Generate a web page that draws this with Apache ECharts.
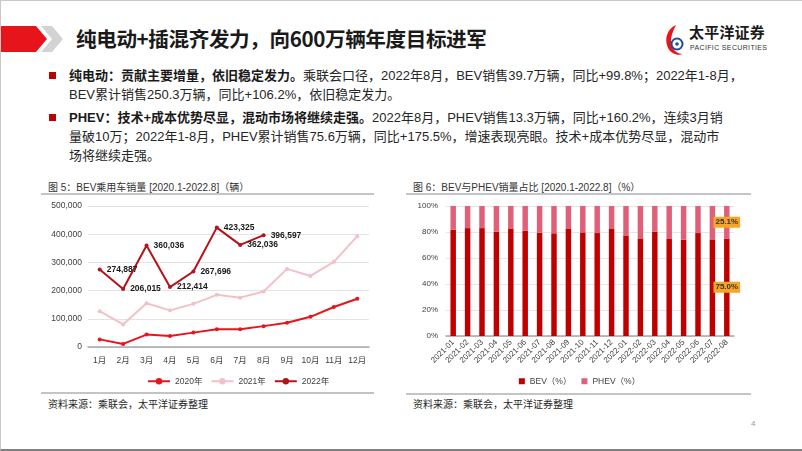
<!DOCTYPE html>
<html><head><meta charset="utf-8">
<script src="https://cdn.jsdelivr.net/npm/echarts@6/dist/echarts.min.js"></script>
<style>
html,body{margin:0;padding:0;background:#fff;}
#slide{position:relative;width:802px;height:451px;overflow:hidden;background:#fff;font-family:"Liberation Sans","Noto Sans CJK SC",sans-serif;box-sizing:border-box;border-top:1px solid #c8c8c8;border-left:1px solid #c8c8c8;border-bottom:2px solid #808080;}
.abs{position:absolute;white-space:nowrap;}
.title{left:75px;top:22px;font-size:20.6px;font-weight:bold;color:#1a1a1a;font-family:"Noto Sans CJK SC",sans-serif;letter-spacing:-0.4px;}
.line{font-size:13px;color:#262626;line-height:18px;}
.line b{font-weight:bold;color:#1a1a1a;}
.bullet{width:7px;height:7px;background:#C00000;}
.ctitle{font-size:10px;color:#333;line-height:12px;}
.src{font-size:10px;color:#262626;line-height:12px;}
.hr{height:2px;background:#c4c4c4;}
</style></head>
<body>
<div id="slide">
  <svg class="abs" style="left:0;top:0" width="70" height="70">
    <polygon points="0,25 35,25 46,38 35,51 0,51" fill="#E8141B"/>
    <polygon points="40,25 51,25 62,38 51,51 40,51 51,38" fill="#D3D3D3"/>
  </svg>
  <div class="abs title">纯电动+插混齐发力，向600万辆年度目标进军</div>
  <svg class="abs" style="left:662px;top:22px" width="24" height="34">
    <path d="M13,2 C4,6 1,16 5,25 C8,31 15,33 20,31 C12,31 7,24 8,16 C9,10 11,6 13,2 Z" fill="#E8141B"/>
    <circle cx="14" cy="21" r="5.5" fill="none" stroke="#1F4E9A" stroke-width="2"/>
    <circle cx="14" cy="21" r="1.8" fill="#1F4E9A"/>
  </svg>
  <div class="abs" style="left:688px;top:21px;font-size:15px;line-height:20px;font-weight:bold;color:#1a1a1a;letter-spacing:0.2px;font-family:'Noto Sans CJK SC',sans-serif;">太平洋证券</div>
  <div class="abs" style="left:689px;top:43px;font-size:7px;line-height:8px;color:#333;letter-spacing:0.35px;">PACIFIC SECURITIES</div>

  <div class="abs bullet" style="left:48px;top:71px"></div>
  <div class="abs line" style="left:68px;top:66px"><b>纯电动：贡献主要增量，依旧稳定发力。</b>乘联会口径，2022年8月，BEV销售39.7万辆，同比+99.8%；2022年1-8月，</div>
  <div class="abs line" style="left:68px;top:85px">BEV累计销售250.3万辆，同比+106.2%，依旧稳定发力。</div>
  <div class="abs bullet" style="left:48px;top:113px"></div>
  <div class="abs line" style="left:68px;top:108px"><b>PHEV：技术+成本优势尽显，混动市场将继续走强。</b>2022年8月，PHEV销售13.3万辆，同比+160.2%，连续3月销</div>
  <div class="abs line" style="left:68px;top:127px">量破10万；2022年1-8月，PHEV累计销售75.6万辆，同比+175.5%，增速表现亮眼。技术+成本优势尽显，混动市</div>
  <div class="abs line" style="left:68px;top:146px">场将继续走强。</div>

  <div class="abs ctitle" style="left:47px;top:181px">图 5：BEV乘用车销量 [2020.1-2022.8]（辆）</div>
  <div class="abs hr" style="left:40px;top:192px;width:333px"></div>
  <div class="abs hr" style="left:40px;top:391px;width:333px"></div>
  <div class="abs src" style="left:47px;top:398px">资料来源：乘联会，太平洋证券整理</div>

  <div class="abs ctitle" style="left:412px;top:181px">图 6：BEV与PHEV销量占比 [2020.1-2022.8]（%）</div>
  <div class="abs hr" style="left:405px;top:192px;width:345px"></div>
  <div class="abs hr" style="left:405px;top:392px;width:345px"></div>
  <div class="abs src" style="left:412px;top:398px">资料来源：乘联会，太平洋证券整理</div>

  <div class="abs" style="left:750px;top:418px;font-size:8px;color:#999;">4</div>

  <div id="c1" class="abs" style="left:40px;top:195px;width:335px;height:195px"></div>
  <div id="c2" class="abs" style="left:405px;top:195px;width:347px;height:197px"></div>
</div>
<script>
// ---- Chart 1 data ----
var months = ['1月','2月','3月','4月','5月','6月','7月','8月','9月','10月','11月','12月'];
var s2020 = [27000, 11000, 44000, 39000, 51000, 63000, 63000, 74000, 86000, 107000, 142000, 171000];
var s2021 = [127000, 80000, 155000, 130000, 153000, 185000, 175000, 197000, 277000, 252000, 302000, 393000];
var s2022 = [274887, 206015, 360036, 212414, 267696, 423325, 362036, 396597];
// ---- Chart 2 data ----
var periods = ['2021-01','2021-02','2021-03','2021-04','2021-05','2021-06','2021-07','2021-08','2021-09','2021-10','2021-11','2021-12','2022-01','2022-02','2022-03','2022-04','2022-05','2022-06','2022-07','2022-08'];
var bev = [81.7, 83.0, 83.0, 80.2, 82.3, 81.0, 79.4, 79.0, 82.3, 79.7, 79.2, 82.3, 77.4, 75.1, 80.2, 74.6, 74.0, 79.2, 74.3, 75.0];
var phev = [18.3, 17.0, 17.0, 19.8, 17.7, 19.0, 20.6, 21.0, 17.7, 20.3, 20.8, 17.7, 22.6, 24.9, 19.8, 25.4, 26.0, 20.8, 25.7, 25.1];

var fontF = '"Liberation Sans","Noto Sans CJK SC",sans-serif';
function fmt(v){ return String(v).replace(/\B(?=(\d{3})+(?!\d))/g, ','); }

var c1 = echarts.init(document.getElementById('c1'), null, {renderer:'canvas'});
c1.setOption({
  animation:false,
  textStyle:{fontFamily:fontF},
  grid:{left:47, right:7, top:10, bottom:44},
  legend:{left:101, top:176, itemWidth:22, itemHeight:8, itemGap:8,
    textStyle:{fontSize:8.5, color:'#404040'},
    data:['2020年','2021年','2022年']},
  xAxis:{type:'category', data:months, boundaryGap:true,
    axisLine:{lineStyle:{color:'#a6a6a6', width:1.5}}, axisTick:{show:false},
    axisLabel:{fontSize:8.5, color:'#404040', margin:9}},
  yAxis:{type:'value', min:0, max:500000, interval:100000,
    axisLine:{show:false}, axisTick:{show:false},
    splitLine:{lineStyle:{color:'#e3e3e3'}},
    axisLabel:{fontSize:8.5, color:'#404040', margin:6, formatter:fmt}},
  series:[
    {name:'2020年', type:'line', data:s2020, symbol:'circle', symbolSize:4,
      lineStyle:{color:'#E8141B', width:2}, itemStyle:{color:'#E8141B'}},
    {name:'2021年', type:'line', data:s2021, symbol:'circle', symbolSize:4,
      lineStyle:{color:'#F2C0C8', width:2}, itemStyle:{color:'#F2C0C8'}},
    {name:'2022年', type:'line', data:s2022, symbol:'circle', symbolSize:4,
      lineStyle:{color:'#B5121B', width:2}, itemStyle:{color:'#B5121B'},
      label:{show:true, position:'right', distance:5, fontSize:8.5, fontWeight:'bold', color:'#1a1a1a',
        formatter:function(p){return fmt(p.value);}}}
  ]
});

var c2 = echarts.init(document.getElementById('c2'), null, {renderer:'canvas'});
var lastIdx = periods.length - 1;
var tagLabel = {show:true, position:'inside', fontSize:8, fontWeight:'bold', color:'#333',
  backgroundColor:'#F7A526', padding:[2,2,1,2], formatter:function(p){return p.value.toFixed(1)+'%';}};
c2.setOption({
  animation:false,
  textStyle:{fontFamily:fontF},
  grid:{left:40, right:19, top:10, bottom:57},
  legend:{left:'center', top:176, itemWidth:6, itemHeight:6, itemGap:10, icon:'rect',
    textStyle:{fontSize:8.5, color:'#404040'}, data:['BEV（%）','PHEV（%）']},
  xAxis:{type:'category', data:periods,
    axisLine:{lineStyle:{color:'#a6a6a6', width:1.5}}, axisTick:{show:false},
    axisLabel:{fontSize:8, color:'#404040', rotate:45, margin:5, interval:0}},
  yAxis:{type:'value', min:0, max:100, interval:20,
    axisLine:{show:false}, axisTick:{show:false},
    splitLine:{lineStyle:{color:'#e6e6e6'}},
    axisLabel:{fontSize:8, color:'#404040', margin:8, formatter:'{value}%'}},
  series:[
    {name:'BEV（%）', type:'bar', stack:'s', barWidth:'38%', itemStyle:{color:'#C00000'},
      data:bev.map(function(v,i){ return i===lastIdx ? {value:v, label:tagLabel} : v; })},
    {name:'PHEV（%）', type:'bar', stack:'s', barWidth:'38%', itemStyle:{color:'#E0607A'},
      data:phev.map(function(v,i){ return i===lastIdx ? {value:v, label:tagLabel} : v; })}
  ]
});
</script>
</body></html>
